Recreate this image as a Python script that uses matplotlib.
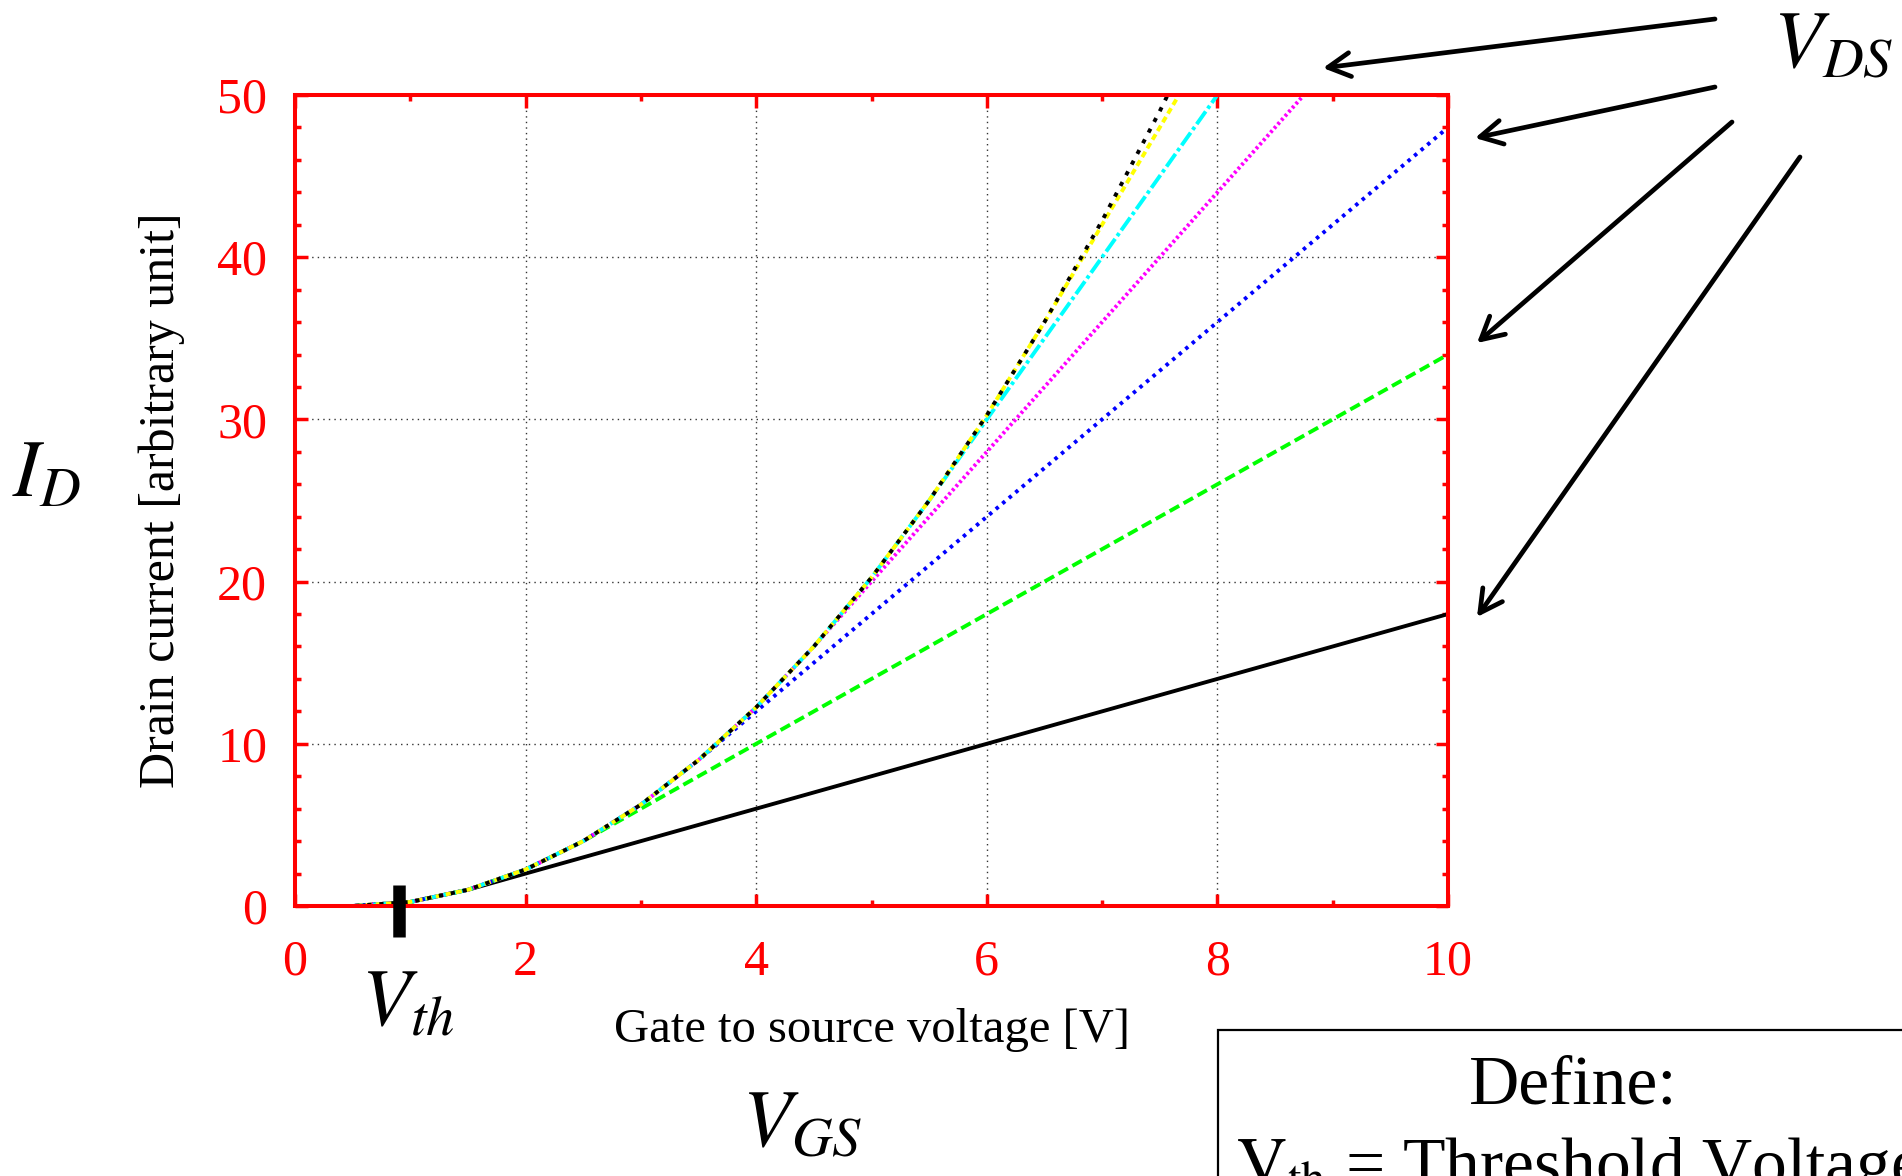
import matplotlib
matplotlib.use("Agg")
import matplotlib.pyplot as plt
from matplotlib.patches import Rectangle
from matplotlib.ticker import MultipleLocator

plt.rcParams['font.family'] = ['Liberation Serif', 'DejaVu Serif']
plt.rcParams['mathtext.fontset'] = 'stix'

W, H = 1902, 1176

# gate to source voltage samples [V]
vgs = [0, 0.5, 1, 1.5, 2, 2.5, 3, 3.5, 4, 4.5, 5, 5.5, 6, 6.5, 7, 7.5, 8, 8.5, 9, 9.5, 10]

# drain current, one list per V_DS curve
id_vds1 = [0, 0, 0.25, 1, 2, 3, 4, 5, 6, 7, 8, 9, 10, 11, 12, 13, 14, 15, 16, 17, 18]
id_vds2 = [0, 0, 0.25, 1, 2.25, 4, 6, 8, 10, 12, 14, 16, 18, 20, 22, 24, 26, 28, 30, 32, 34]
id_vds3 = [0, 0, 0.25, 1, 2.25, 4, 6.25, 9, 12, 15, 18, 21, 24, 27, 30, 33, 36, 39, 42, 45, 48]
id_vds4 = [0, 0, 0.25, 1, 2.25, 4, 6.25, 9, 12.25, 16, 20, 24, 28, 32, 36, 40, 44, 48, 52]
id_vds5 = [0, 0, 0.25, 1, 2.25, 4, 6.25, 9, 12.25, 16, 20.25, 25, 30, 35, 40, 45, 50]
id_vds6 = [0, 0, 0.25, 1, 2.25, 4, 6.25, 9, 12.25, 16, 20.25, 25, 30.25, 36, 42, 48, 54]
id_sat = [0, 0, 0.25, 1, 2.25, 4, 6.25, 9, 12.25, 16, 20.25, 25, 30.25, 36, 42.25, 49, 56.25]

vth_mark = 0.9

curves = [id_vds1, id_vds2, id_vds3, id_vds4, id_vds5, id_vds6, id_sat]
colors = ['black', '#00ff00', '#0000ff', '#ff00ff', '#00ffff', '#ffff00', 'black']
styles = ['-', (0, (2.8, 1.3)), (0, (0.9, 1.3)), (0, (0.7, 0.7)),
          (0, (4, 0.9, 0.9, 0.9)), (0, (1.6, 1.0)), (0, (1.1, 2.0))]


def fp(x, y):
    # pixel position (top-left origin) -> figure fraction
    return x / W, 1 - y / H


fig = plt.figure(figsize=(W / 100, H / 100), dpi=100)
ax = fig.add_axes([295 / W, 270 / H, 1153 / W, 811 / H])

for ys, c, ls in zip(curves, colors, styles):
    ax.plot(vgs[:len(ys)], ys, color=c, linestyle=ls, lw=2.8)

# threshold marker
ax.plot([vth_mark, vth_mark], [-1.9, 1.3], color='black', lw=9,
        solid_capstyle='butt', clip_on=False, zorder=5)

ax.set_xlim(0, 10)
ax.set_ylim(0, 50)
ax.xaxis.set_major_locator(MultipleLocator(2))
ax.xaxis.set_minor_locator(MultipleLocator(1))
ax.yaxis.set_major_locator(MultipleLocator(10))
ax.yaxis.set_minor_locator(MultipleLocator(2))

for sp in ax.spines.values():
    sp.set_color('red')
    sp.set_linewidth(2.9)

ax.tick_params(which='both', direction='in', top=True, right=True,
               colors='red', labelsize=36, width=2.5)
ax.tick_params(which='major', length=9)
ax.tick_params(which='minor', length=4.5)
ax.tick_params(axis='x', pad=24)
ax.tick_params(axis='y', pad=20)

ax.grid(True, which='major', color='#333333', lw=1.0, linestyle=(0, (1, 3)))
ax.set_axisbelow(True)

ax.set_xlabel('Gate to source voltage [V]', fontsize=35, labelpad=16)
ax.set_ylabel('Drain current [arbitrary unit]', fontsize=36, labelpad=23)

# big symbolic labels
fig.text(*fp(1773, 68), r'$V_{DS}$', fontsize=58, ha='left', va='baseline')
fig.text(*fp(12, 496), r'$I_{D}$', fontsize=58, ha='left', va='baseline')
fig.text(*fp(361, 1026), r'$V_{th}$', fontsize=58, ha='left', va='baseline')
fig.text(*fp(742, 1147), r'$V_{GS}$', fontsize=58, ha='left', va='baseline')

# arrows pointing at the curves
arrows = [((1715, 19), (1323, 68)), ((1715, 87), (1475, 138)),
          ((1732, 122), (1477, 343)), ((1800, 157), (1477, 617))]
for tail, head in arrows:
    ax.annotate('', xy=fp(*head), xytext=fp(*tail), xycoords='figure fraction',
                textcoords='figure fraction', annotation_clip=False,
                arrowprops=dict(arrowstyle='->,head_length=1.6,head_width=0.86',
                                mutation_scale=10, lw=3.4, color='black',
                                shrinkA=0, shrinkB=0))

# definition box, running off the bottom-right corner
x0, y0 = fp(1218, 1250)
x1, y1 = fp(1960, 1030)
fig.add_artist(Rectangle((x0, y0), x1 - x0, y1 - y0, transform=fig.transFigure,
                         fill=False, edgecolor='black', lw=1.6))
fig.text(*fp(1573, 1103), 'Define:', fontsize=50, ha='center', va='baseline')
fig.text(*fp(1236, 1186), r'$\mathrm{V_{th}}$ = Threshold Voltage', fontsize=50,
         ha='left', va='baseline')

fig.savefig('out.png', dpi=100)
